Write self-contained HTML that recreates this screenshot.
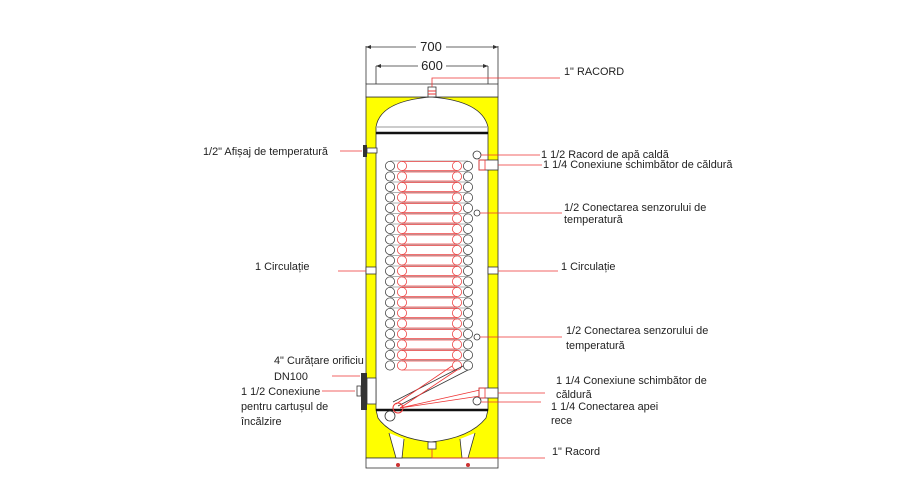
<!DOCTYPE html>
<html><head><meta charset="utf-8"><style>
html,body{margin:0;padding:0;background:#fff;}
svg{display:block;}
text{font-family:"Liberation Sans",sans-serif;font-size:10.9px;fill:#222;}
</style></head><body>
<svg width="900" height="500" viewBox="0 0 900 500" xmlns="http://www.w3.org/2000/svg">
<defs>
<g id="row">
<line x1="390" y1="-5" x2="468" y2="-5" stroke="#999" stroke-width="0.7"/>
<line x1="402" y1="-4.5" x2="457" y2="-4.5" stroke="#e44" stroke-width="0.7"/>
<line x1="402" y1="4.5" x2="457" y2="4.5" stroke="#e44" stroke-width="0.7"/>
<circle cx="390" cy="0" r="4.6" fill="#fff" stroke="#444" stroke-width="0.8"/>
<circle cx="468" cy="0" r="4.6" fill="#fff" stroke="#444" stroke-width="0.8"/>
<circle cx="402" cy="0" r="4.6" fill="none" stroke="#e44" stroke-width="0.8"/>
<circle cx="457" cy="0" r="4.6" fill="none" stroke="#e44" stroke-width="0.8"/>
</g>
</defs>
<g stroke="#333" stroke-width="0.8" fill="none">
<line x1="366" y1="46" x2="366" y2="84"/><line x1="498" y1="46" x2="498" y2="84"/>
<line x1="366" y1="47" x2="416" y2="47"/><line x1="446" y1="47" x2="498" y2="47"/>
<line x1="376" y1="66" x2="376" y2="130"/><line x1="488" y1="66" x2="488" y2="130"/>
<line x1="376" y1="66" x2="418" y2="66"/><line x1="446" y1="66" x2="488" y2="66"/>
</g>
<g fill="#333"><path d="M366 47l5-2v4z"/><path d="M498 47l-5-2v4z"/><path d="M376 66l5-2v4z"/><path d="M488 66l-5-2v4z"/></g>
<text x="431" y="51" text-anchor="middle" style="font-size:13px">700</text>
<text x="432" y="70" text-anchor="middle" style="font-size:13px">600</text>
<rect x="366" y="97" width="132" height="361" fill="#ffff00" stroke="#333" stroke-width="0.8"/>
<rect x="366" y="84" width="132" height="13" fill="#fff" stroke="#333" stroke-width="0.8"/>
<rect x="366" y="458" width="132" height="10" fill="#fff" stroke="#333" stroke-width="0.8"/>
<path d="M376 133 L376 127 Q380 101 431 97 Q482 101 488 127 L488 133 Z" fill="#fff" stroke="#333" stroke-width="0.8"/>
<path d="M376 133 L376 410 L378 418 Q392 438 431 442 Q470 438 486 418 L488 410 L488 133 Z" fill="#fff" stroke="#333" stroke-width="0.8"/>
<line x1="377" y1="127" x2="487" y2="127" stroke="#999" stroke-width="1"/>
<line x1="376" y1="133" x2="488" y2="133" stroke="#111" stroke-width="2.5"/>
<line x1="376" y1="410" x2="488" y2="410" stroke="#111" stroke-width="2.5"/>
<path d="M389 433 L396 458 L402 458 L404 439" fill="#fff" stroke="#333" stroke-width="0.8"/>
<path d="M460 439 L462 458 L468 458 L475 433" fill="#fff" stroke="#333" stroke-width="0.8"/>
<circle cx="398" cy="465" r="2" fill="#c33"/><circle cx="468" cy="465" r="2" fill="#c33"/>
<rect x="428" y="87" width="8" height="10" fill="#fff" stroke="#333" stroke-width="0.8"/>
<line x1="428" y1="91" x2="436" y2="91" stroke="#e33"/><line x1="428" y1="94" x2="436" y2="94" stroke="#e33"/>
<rect x="428" y="442" width="8" height="7" fill="#fff" stroke="#333" stroke-width="0.8"/>
<use href="#row" y="166"/><use href="#row" y="176.5"/><use href="#row" y="187"/><use href="#row" y="197.5"/>
<use href="#row" y="208"/><use href="#row" y="218.5"/><use href="#row" y="229"/><use href="#row" y="239.5"/>
<use href="#row" y="250"/><use href="#row" y="260.5"/><use href="#row" y="271"/><use href="#row" y="281.5"/>
<use href="#row" y="292"/><use href="#row" y="302.5"/><use href="#row" y="313"/><use href="#row" y="323.5"/>
<use href="#row" y="334"/><use href="#row" y="344.5"/><use href="#row" y="355"/><use href="#row" y="365.5"/>
<g fill="none" stroke-width="0.8">
<path d="M468 370 L398 406 M463 366 L393 402" stroke="#333"/>
<path d="M457 370 L400 408 M452 366 L396 404" stroke="#e33"/>
<path d="M400 408 L480 390 M400 408 L480 396" stroke="#e33"/>
</g>
<circle cx="398" cy="408" r="5" fill="none" stroke="#e33"/>
<circle cx="390" cy="416" r="5" fill="#fff" stroke="#333" stroke-width="0.8"/>
<rect x="479" y="160" width="19" height="10" fill="#fff" stroke="#333" stroke-width="0.8"/>
<rect x="479" y="160" width="6" height="10" fill="none" stroke="#e33" stroke-width="0.8"/>
<rect x="479" y="388" width="19" height="10" fill="#fff" stroke="#333" stroke-width="0.8"/>
<rect x="479" y="388" width="6" height="10" fill="none" stroke="#e33" stroke-width="0.8"/>
<circle cx="477" cy="155" r="4" fill="#fff" stroke="#333" stroke-width="0.8"/>
<circle cx="477" cy="213" r="3" fill="#fff" stroke="#333" stroke-width="0.8"/>
<circle cx="477" cy="337" r="3" fill="#fff" stroke="#333" stroke-width="0.8"/>
<circle cx="477" cy="401" r="4" fill="#fff" stroke="#333" stroke-width="0.8"/>
<rect x="366" y="267" width="10" height="7" fill="#fff" stroke="#333" stroke-width="0.8"/>
<rect x="488" y="267" width="10" height="7" fill="#fff" stroke="#333" stroke-width="0.8"/>
<rect x="363" y="145" width="4" height="12" fill="#333"/>
<rect x="367" y="148" width="10" height="5" fill="#fff" stroke="#333" stroke-width="0.8"/>
<rect x="361" y="373" width="6" height="37" fill="#333"/>
<rect x="367" y="378" width="9" height="26" fill="#fff" stroke="#333" stroke-width="0.8"/>
<rect x="357" y="386" width="4" height="10" fill="#fff" stroke="#333" stroke-width="0.8"/>
<g stroke="#e33" stroke-width="0.8" fill="none">
<polyline points="432,87 432,78 560,78"/>
<line x1="340" y1="151" x2="362" y2="151"/>
<line x1="481" y1="155" x2="540" y2="155"/>
<line x1="498" y1="165" x2="542" y2="165"/>
<polyline points="480,213 562,213"/>
<line x1="338" y1="271" x2="366" y2="271"/>
<line x1="498" y1="271" x2="558" y2="271"/>
<line x1="480" y1="337" x2="562" y2="337"/>
<line x1="332" y1="376" x2="360" y2="376"/>
<line x1="322" y1="391" x2="355" y2="391"/>
<line x1="498" y1="393" x2="545" y2="393"/>
<line x1="481" y1="402" x2="541" y2="402"/>
<polyline points="432,449 432,458 545,458"/>
</g>
<text x="564" y="75">1" RACORD</text>
<text x="203" y="155">1/2" Afișaj de temperatură</text>
<text x="541" y="158">1 1/2 Racord de apă caldă</text>
<text x="543" y="168">1 1/4 Conexiune schimbător de căldură</text>
<text x="564" y="211">1/2 Conectarea senzorului de</text>
<text x="564" y="223">temperatură</text>
<text x="255" y="270">1 Circulație</text>
<text x="561" y="270">1 Circulație</text>
<text x="566" y="334">1/2 Conectarea senzorului de</text>
<text x="566" y="349">temperatură</text>
<text x="274" y="364">4" Curățare orificiu</text>
<text x="274" y="380">DN100</text>
<text x="241" y="395">1 1/2 Conexiune</text>
<text x="241" y="410">pentru cartușul de</text>
<text x="241" y="425">încălzire</text>
<text x="556" y="384">1 1/4 Conexiune schimbător de</text>
<text x="556" y="398">căldură</text>
<text x="551" y="410">1 1/4 Conectarea apei</text>
<text x="551" y="424">rece</text>
<text x="552" y="455">1" Racord</text>
</svg>
</body></html>
